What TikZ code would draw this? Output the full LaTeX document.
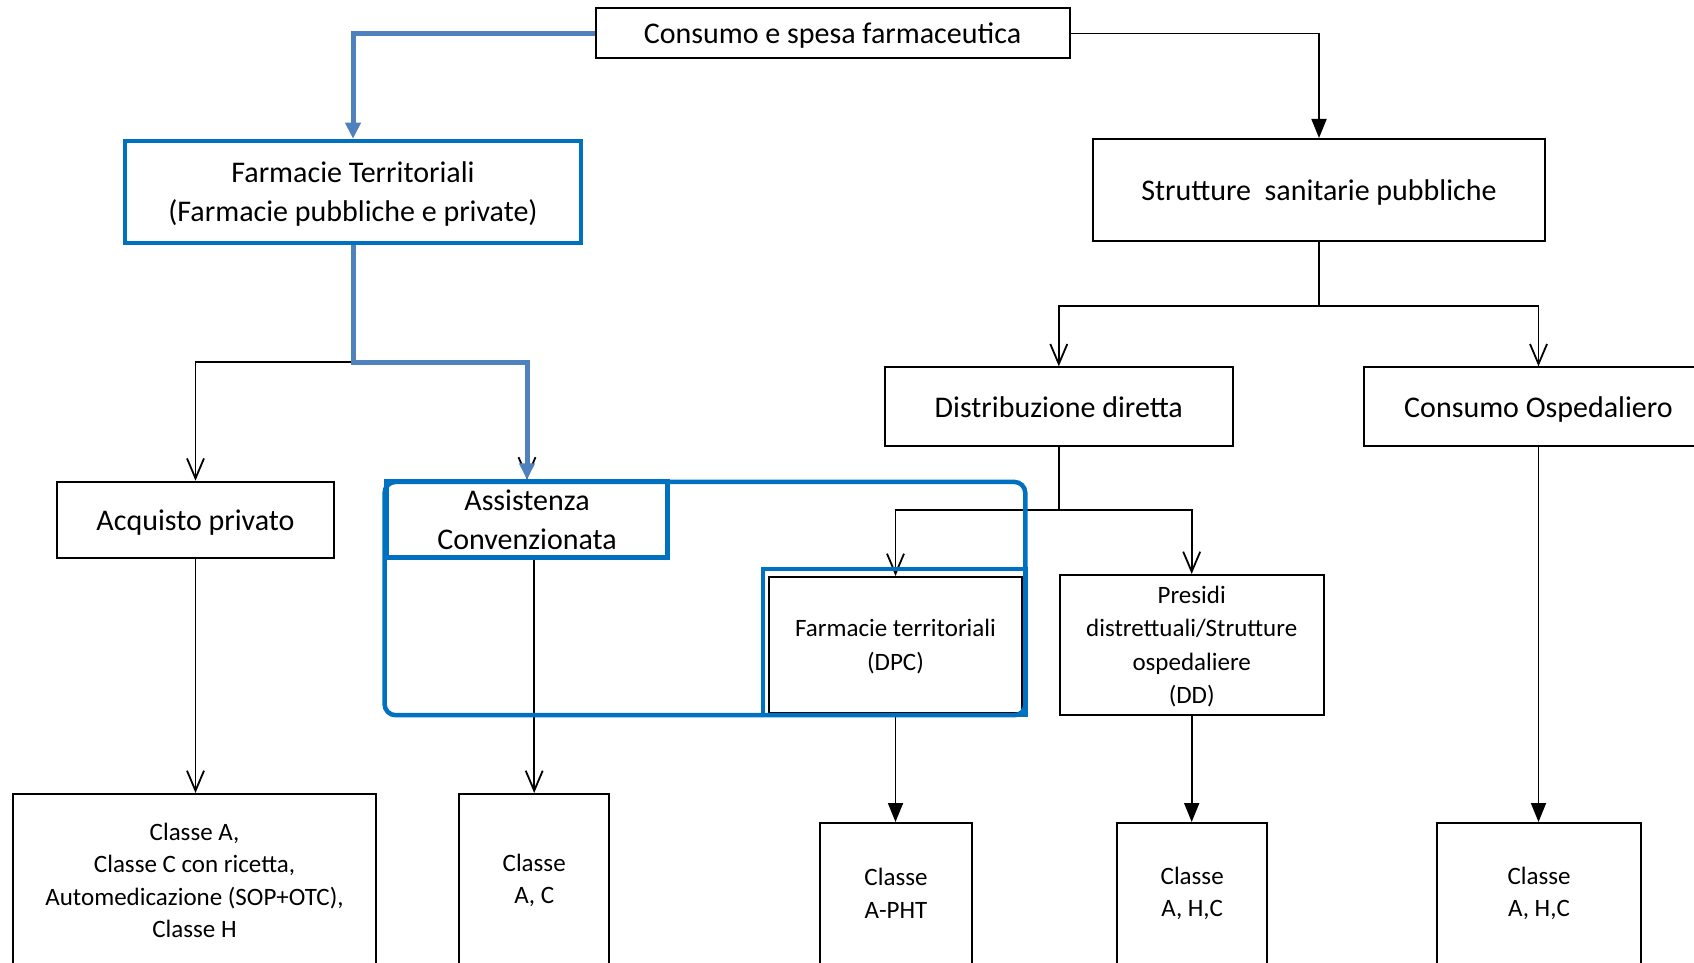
\documentclass[tikz,border=0pt]{standalone}
\usepackage{fontspec}
\setmainfont{Carlito}
\usepackage{tikz}
\usetikzlibrary{positioning, arrows.meta}
\definecolor{hiblue}{HTML}{0070C0}
\definecolor{pathblue}{HTML}{4F81BD}

\begin{document}
\begin{tikzpicture}[x=1pt, y=-1pt,
    box/.style={draw, line width=2pt, align=center, inner sep=0pt, font=\fontsize{30}{39}\selectfont},
    sbox/.style={box, font=\fontsize{25}{33.5}\selectfont},
    leaf/.style={box, font=\fontsize{25}{32.5}\selectfont},
    lower/.style={text depth=0pt},
    hi/.style={draw=hiblue, line width=4.5pt},
    open/.style={-{Straight Barb[length=20pt,width=17pt]}, line width=1.8pt},
    full/.style={-{Triangle[length=19pt,width=15pt]}, line width=1.8pt},
    bluepath/.style={draw=pathblue, line width=5pt, -{Triangle[length=16pt,width=15pt]}}]
        \clip (0,0) rectangle (1694,963);

        \node[box, lower, minimum width=474pt, minimum height=50pt] (C) at (832.5,33.5) {Consumo e spesa farmaceutica};
        \node[box, lower, hi, minimum width=456pt, minimum height=102pt] (FT) at (353,192) {Farmacie Territoriali\\(Farmacie pubbliche e private)};
        \node[box, lower, minimum width=452pt, minimum height=102pt] (SSP) at (1319,190) {Strutture\ \ sanitarie pubbliche};

        \node[box, lower, minimum width=277pt, minimum height=76pt] (AP) at (195.5,519.7) {Acquisto privato};
        \node[box, hi, minimum width=281pt, minimum height=76pt] (AC) at (527,519.7) {Assistenza\\Convenzionata};
        \node[box, lower, minimum width=348pt, minimum height=79pt] (DD) at (1058.8,406.8) {Distribuzione diretta};
        \node[box, lower, minimum width=350pt, minimum height=79pt] (CO) at (1538.5,406.8) {Consumo Ospedaliero};

        \node[sbox, lower, minimum width=253pt, minimum height=136pt] (DPC) at (895.5,645) {Farmacie territoriali\\(DPC)};
        \node[sbox, lower, minimum width=264pt, minimum height=140pt] (PD) at (1191.7,645) {Presidi\\distrettuali/Strutture\\ospedaliere\\(DD)};

        \node[leaf, minimum width=363pt, minimum height=173pt] (LA) at (194.5,880.5) {Classe A,\\Classe C con ricetta,\\Automedicazione (SOP+OTC),\\Classe H};
        \node[leaf, minimum width=150pt, minimum height=173pt] (LAC) at (534.2,880.5) {Classe\\A, C};
        \node[leaf, minimum width=152pt, minimum height=141pt] (LPHT) at (896,893.5) {Classe\\A-PHT};
        \node[leaf, minimum width=150pt, minimum height=141pt] (LDD) at (1192.2,893.5) {Classe\\A, H,C};
        \node[leaf, minimum width=204pt, minimum height=141pt] (LCO) at (1539,893.5) {Classe\\A, H,C};

        \coordinate (J1) at (353,362);
        \coordinate (J2) at (1319,305.8);
        \coordinate (J3) at (1058.8,510);

        \draw[full] (C.east) -| (SSP.north);
        \draw[open] (FT.south) -- (J1) -| (AP.north);
        \draw[open] (J1) -| (AC.north);
        \draw[line width=1.8pt] (SSP.south) -- (J2);
        \draw[open] (J2) -| (DD.north);
        \draw[open] (J2) -| (CO.north);
        \draw[line width=1.8pt] (DD.south) -- (J3);
        \draw[open] (J3) -| (DPC.north);
        \draw[open] (J3) -| (PD.north);

        \draw[open] (AP.south) -- (AP.south |- LA.north);
        \draw[open] (LAC.north |- AC.south) -- (LAC.north);
        \draw[full] (DPC.south) -- (DPC.south |- LPHT.north);
        \draw[full] (PD.south) -- (PD.south |- LDD.north);
        \draw[full] (CO.south) -- (CO.south |- LCO.north);

        \draw[bluepath] (C.west) -| (FT.north);
        \draw[bluepath] (FT.south) -- (J1) -| (AC.north);

        \draw[hi, rounded corners=11pt] (384.6,481.9) rectangle (1025.3,715.2);
        \draw[hi] (762.8,569) rectangle (1025.3,715.2);
    \end{tikzpicture}
\end{document}
